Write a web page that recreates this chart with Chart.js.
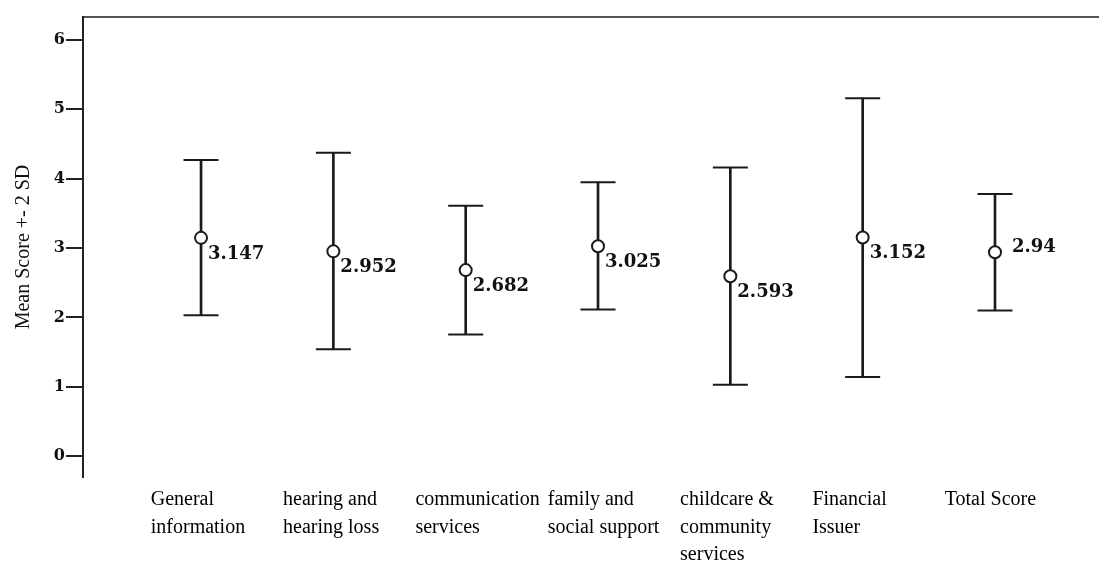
<!DOCTYPE html>
<html>
<head>
<meta charset="utf-8">
<title>Mean Score +- 2 SD</title>
<script src="https://cdn.jsdelivr.net/npm/chart.js@4.4.1/dist/chart.umd.min.js"></script>
<style>
    html, body { margin: 0; padding: 0; background: #fff; overflow: hidden; }
    canvas { display: block; }
</style>
</head>
<body>
<canvas id="chart" width="1099" height="565"></canvas>
<script>
// Chart data
const categories = [
    ['General', 'information'],
    ['hearing and', 'hearing loss'],
    ['communication', 'services'],
    ['family and', 'social support'],
    ['childcare &', 'community', 'services'],
    ['Financial', 'Issuer'],
    ['Total Score']
];
const means = [3.147, 2.952, 2.682, 3.025, 2.593, 3.152, 2.94];
const lower = [2.03, 1.54, 1.755, 2.115, 1.03, 1.14, 2.10];   // mean - 2 SD
const upper = [4.27, 4.375, 3.61, 3.95, 4.16, 5.16, 3.78];    // mean + 2 SD
const yTicks = [0, 1, 2, 3, 4, 5, 6];

const ink = '#1a1a1a';
const xMin = -0.892;
const xMax = 6.786;

// keep the plot area flush with the canvas edges
function noSidePadding(s) {
    s.paddingLeft = 0;
    s.paddingRight = 0;
}

// value text next to each mean marker
const valueLabels = {
    id: 'valueLabels',
    afterDatasetsDraw(chart) {
        const meta = chart.getDatasetMeta(2);
        const ctx = chart.ctx;
        ctx.save();
        ctx.font = 'bold 18px "DejaVu Serif"';
        ctx.fillStyle = '#111';
        ctx.textBaseline = 'middle';
        meta.data.forEach((pt, i) => {
            const last = i === means.length - 1;
            ctx.fillText(String(means[i]), pt.x + (last ? 17 : 7), pt.y + (last ? -5 : 16));
        });
        ctx.restore();
    }
};

new Chart(document.getElementById('chart'), {
    type: 'line',
    data: {
        datasets: [
            {
                // vertical whiskers
                type: 'bar',
                data: means.map((m, i) => ({ x: i, y: [lower[i], upper[i]] })),
                xAxisID: 'x',
                yAxisID: 'y',
                barThickness: 2,
                backgroundColor: ink,
                borderWidth: 0,
                order: 3
            },
            {
                // caps at both ends
                type: 'line',
                data: lower.map((v, i) => ({ x: i, y: v })).concat(upper.map((v, i) => ({ x: i, y: v }))),
                xAxisID: 'x',
                yAxisID: 'y',
                showLine: false,
                pointStyle: 'line',
                pointRadius: 17.5,
                pointHoverRadius: 17.5,
                borderColor: ink,
                pointBorderColor: ink,
                pointBorderWidth: 2,
                order: 2
            },
            {
                // mean markers
                type: 'line',
                data: means.map((m, i) => ({ x: i, y: m })),
                xAxisID: 'x',
                yAxisID: 'y',
                showLine: false,
                pointStyle: 'circle',
                pointRadius: 6,
                pointHoverRadius: 6,
                pointBackgroundColor: '#fff',
                pointBorderColor: ink,
                pointBorderWidth: 2,
                order: 1
            }
        ]
    },
    options: {
        responsive: false,
        animation: false,
        events: [],
        layout: { padding: 0, autoPadding: false },
        plugins: {
            legend: { display: false },
            tooltip: { enabled: false }
        },
        scales: {
            x: {
                type: 'linear',
                position: 'top',
                min: xMin,
                max: xMax,
                offset: false,
                grid: { display: false, drawTicks: false },
                ticks: { display: false },
                border: { display: true, color: '#555', width: 2 },
                afterFit: s => { s.height = 17; noSidePadding(s); }
            },
            xl: {
                type: 'linear',
                axis: 'x',
                position: 'bottom',
                min: xMin,
                max: xMax,
                offset: false,
                grid: { display: false, drawTicks: false },
                border: { display: false },
                afterBuildTicks: s => {
                    s.ticks = categories.map((c, i) => ({ value: i - 0.38 }));
                },
                ticks: {
                    align: 'start',
                    autoSkip: false,
                    maxRotation: 0,
                    padding: 9,
                    color: '#000',
                    font: { family: '"Liberation Serif"', size: 20, lineHeight: 1.38 },
                    callback: (v, i) => categories[i]
                },
                afterFit: s => { s.height = 88; noSidePadding(s); }
            },
            y: {
                min: -0.3,
                max: 6.33,
                afterBuildTicks: s => {
                    s.ticks = yTicks.map(v => ({ value: v }));
                },
                grid: { drawOnChartArea: false, drawTicks: true, tickLength: 17, color: '#222', lineWidth: 2 },
                border: { display: true, color: '#222', width: 2 },
                ticks: {
                    padding: 1,
                    color: '#111',
                    font: { family: '"DejaVu Serif"', weight: 'bold', size: 16 }
                },
                title: {
                    display: true,
                    text: 'Mean Score +- 2 SD',
                    color: '#111',
                    font: { family: '"Liberation Serif"', size: 20 },
                    padding: { top: 12, bottom: 0 }
                },
                afterFit: s => { s.width = 83; }
            }
        }
    },
    plugins: [valueLabels]
});
</script>
</body>
</html>
